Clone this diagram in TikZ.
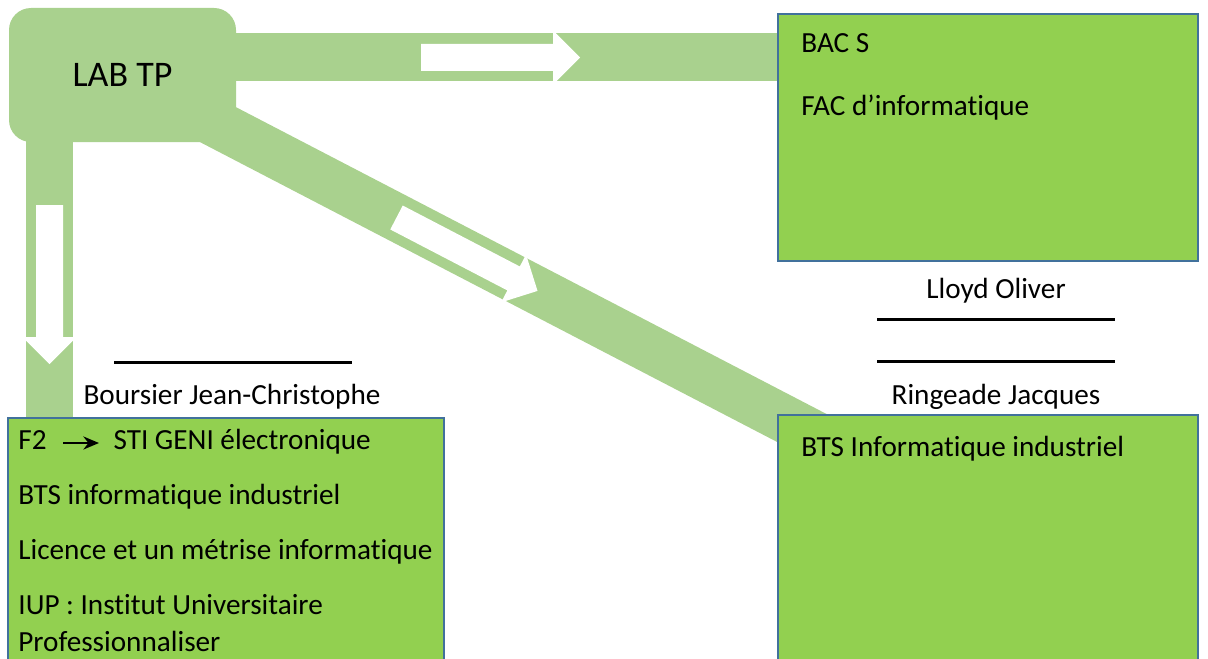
\documentclass[tikz,border=0pt]{standalone}
\usepackage{fontspec}
\setmainfont{Carlito}[Ligatures=NoCommon]
\usetikzlibrary{arrows.meta,positioning,backgrounds}

\definecolor{bandgreen}{HTML}{A9D18E}
\definecolor{boxgreen}{HTML}{92D050}
\definecolor{boxblue}{HTML}{41719C}

\begin{document}
\begin{tikzpicture}[x=0.5pt,y=-0.5pt,
    band/.style={draw=bandgreen,line width=23.8pt},
    infobox/.style={rectangle,fill=boxgreen,draw=boxblue,line width=1pt,inner sep=0pt},
    boxtext/.style={inner sep=0pt,align=flush left,text width=214pt,anchor=base west,font=\fontsize{14.6}{18.3}\selectfont},
    persontext/.style={inner sep=0pt,anchor=base,font=\fontsize{14.6}{18.3}\selectfont},
    sigline/.style={line width=1.5pt},
    flowarrow/.pic={\fill[white] (0,-13.5) -- (132,-13.5) -- (132,-27) -- (159,0) -- (132,27) -- (132,13.5) -- (0,13.5) -- cycle;}]
  \useasboundingbox (0,0) rectangle (1208,658);

  \node[fill=bandgreen,rounded corners=11pt,minimum width=113.5pt,minimum height=67pt,
        font=\fontsize{18}{22}\selectfont] (lab) at (122.5,75) {LAB TP};
  \node[infobox,minimum width=210pt,minimum height=123.5pt] (bac)  at (988,137.5) {};
  \node[infobox,minimum width=218pt,minimum height=141pt]   (info) at (226,559)   {};
  \node[infobox,minimum width=210pt,minimum height=142.5pt] (btsr) at (988,557.5) {};

  \begin{scope}[on background layer]
    \coordinate (topy) at (0,57);
    \coordinate (downx) at (49.5,0);
    \coordinate (diagend) at (900,479);
    \draw[band] (lab.center |- topy) -- (bac.west |- topy);
    \draw[band] (lab.center -| downx) -- (info.north -| downx);
    \draw[band] (lab.center) -- (diagend);
  \end{scope}

  \pic at (421,57.5) {flowarrow};
  \pic[rotate=-90] at (49.5,205) {flowarrow};
  \pic[rotate=-27.5] at (396.5,217.5) {flowarrow};

  \node[boxtext] (bactext) at ([shift={(24,40)}]bac.north west)
        {BAC S\\[13.2pt]FAC d’informatique};
  \node[boxtext] (infotext) at ([shift={(11,32.7)}]info.north west)
        {F2\hspace{33.5pt}STI GENI électronique\\[9.2pt]
         BTS informatique industriel\\[9.2pt]
         Licence et un métrise informatique\\[9.2pt]
         IUP : Institut Universitaire\\Professionnaliser};
  \node[boxtext] (btstext) at ([shift={(24,42)}]btsr.north west) {BTS Informatique industriel};

  \coordinate (f2from) at (63,443);
  \coordinate (f2to) at (99,443);
  \draw[line width=1.2pt,-{Stealth[length=7.8pt,width=6.5pt]}] (f2from) -- (f2to);

  \node[persontext] (boursier) at (232,404) {Boursier Jean-Christophe};
  \node[persontext] (lloyd)    at (996,298) {Lloyd Oliver};
  \node[persontext] (ringeade) at (996,404) {Ringeade Jacques};

  \draw[sigline] (114,362) -- (352,362);
  \draw[sigline] (877,319) -- (1115,319);
  \draw[sigline] (877,361) -- (1115,361);
\end{tikzpicture}
\end{document}
